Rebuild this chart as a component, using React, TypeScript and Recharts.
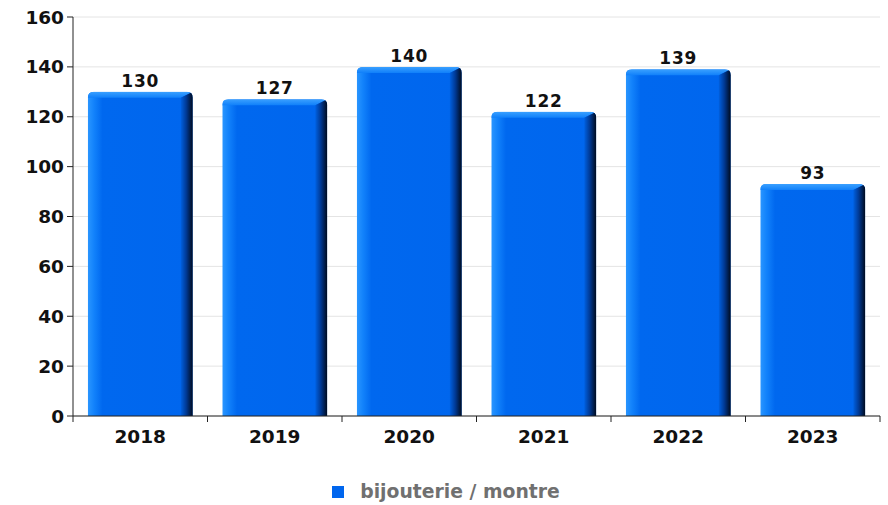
import { BarChart, Bar, XAxis, YAxis, CartesianGrid, LabelList, Legend } from 'recharts';

const years = ['2018', '2019', '2020', '2021', '2022', '2023'];
const values = [130, 127, 140, 122, 139, 93];
const yTicks = [0, 20, 40, 60, 80, 100, 120, 140, 160];
const seriesName = 'bijouterie / montre';

const data = years.map((year, i) => ({ year, value: values[i] }));

const FONT = '"DejaVu Sans", Verdana, sans-serif';
const BLUE = '#0066ee';

function Bar3D(props: any) {
  const { x, y, width, height, index } = props;
  if (!height || height <= 0) return null;
  const r = 6;
  const d = 12;
  const t = 6;
  const right = x + width;
  const bottom = y + height;
  const clip = `bar3d-clip-${index}`;
  const face = `bar3d-face-${index}`;
  const side = `bar3d-side-${index}`;
  const top = `bar3d-top-${index}`;
  const body = `M${x},${bottom} L${x},${y + r} Q${x},${y} ${x + r},${y} L${right - r},${y} Q${right},${y} ${right},${y + r} L${right},${bottom} Z`;
  return (
    <g>
      <defs>
        <clipPath id={clip}>
          <path d={body} />
        </clipPath>
        <linearGradient id={face} x1="0" y1="0" x2="1" y2="0">
          <stop offset="0" stopColor="#2a96ff" />
          <stop offset="0.06" stopColor="#1282fb" />
          <stop offset="0.14" stopColor="#0068ef" />
          <stop offset="1" stopColor={BLUE} />
        </linearGradient>
        <linearGradient id={side} x1="0" y1="0" x2="1" y2="0">
          <stop offset="0" stopColor="#0060e0" />
          <stop offset="0.45" stopColor="#003a96" />
          <stop offset="1" stopColor="#000a1c" />
        </linearGradient>
        <linearGradient id={top} x1="0" y1="0" x2="0" y2="1">
          <stop offset="0" stopColor="#3aa0ff" />
          <stop offset="1" stopColor="#1080fa" />
        </linearGradient>
      </defs>
      <g clipPath={`url(#${clip})`}>
        <rect x={x} y={y} width={width} height={height} fill={`url(#${face})`} />
        <path
          d={`M${x},${y} L${right},${y} L${right - d},${y + t} L${x + t},${y + t} L${x},${y + t} Z`}
          fill={`url(#${top})`}
        />
        <path
          d={`M${right - d},${y + t} L${right},${y} L${right},${bottom} L${right - d},${bottom} Z`}
          fill={`url(#${side})`}
        />
      </g>
    </g>
  );
}

function XTick(props: any) {
  const { x, y, payload, index } = props;
  const half = payload && payload.offset ? payload.offset : 67;
  const axisY = y - 8;
  return (
    <g>
      <line x1={x + half} y1={axisY} x2={x + half} y2={axisY + 6} stroke="#222" />
      {index === 0 && <line x1={x - half} y1={axisY} x2={x - half} y2={axisY + 6} stroke="#222" />}
      <text
        x={x}
        y={axisY + 27}
        textAnchor="middle"
        fontFamily={FONT}
        fontWeight="bold"
        fontSize={18.5}
        fill="#111"
      >
        {payload.value}
      </text>
    </g>
  );
}

function LegendBox() {
  return (
    <div
      style={{
        height: 49,
        display: 'flex',
        justifyContent: 'center',
        alignItems: 'flex-start',
        paddingTop: 25,
        boxSizing: 'border-box',
        fontFamily: FONT,
      }}
    >
      <div style={{ display: 'flex', alignItems: 'center', marginLeft: 12 }}>
        <span style={{ width: 12, height: 12, background: BLUE, display: 'inline-block', marginRight: 16 }} />
        <span style={{ fontWeight: 'bold', fontSize: 18.8, color: '#707070' }}>{seriesName}</span>
      </div>
    </div>
  );
}

export default function App() {
  return (
    <div style={{ position: 'absolute', left: 0, top: 0, width: 888, height: 505, background: '#fff' }}>
      <BarChart
        width={888}
        height={505}
        data={data}
        margin={{ top: 17, right: 8, left: 0, bottom: 0 }}
        barCategoryGap="11%"
      >
        <CartesianGrid vertical={false} stroke="#e4e4e4" />
        <XAxis
          dataKey="year"
          height={40}
          tickLine={false}
          axisLine={{ stroke: '#222' }}
          tick={<XTick />}
          interval={0}
        />
        <YAxis
          width={73}
          domain={[0, 160]}
          ticks={yTicks}
          interval={0}
          tickSize={6}
          tickMargin={3}
          axisLine={{ stroke: '#222' }}
          tickLine={{ stroke: '#222' }}
          tick={{ fontFamily: FONT, fontWeight: 'bold', fontSize: 18.5, fill: '#111' }}
        />
        <Legend verticalAlign="bottom" height={49} content={<LegendBox />} />
        <Bar dataKey="value" name={seriesName} fill={BLUE} shape={<Bar3D />} isAnimationActive={false}>
          <LabelList
            dataKey="value"
            position="top"
            offset={5}
            fill="#111"
            fontFamily={FONT}
            fontWeight="bold"
            fontSize={17}
            letterSpacing={0.8}
          />
        </Bar>
      </BarChart>
    </div>
  );
}
